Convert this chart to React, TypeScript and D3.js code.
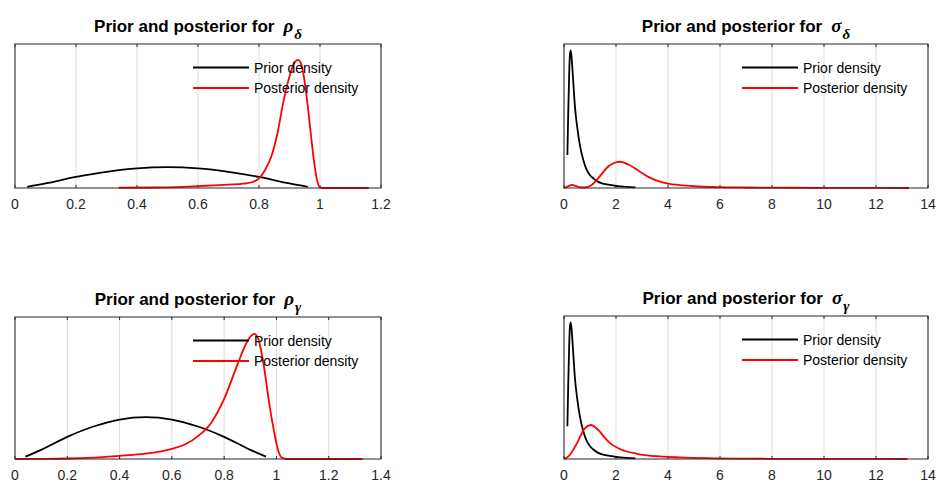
import React from "react";
import * as d3 from "d3";

type Pt = [number, number];

// prior densities (same prior for both rho and both sigma parameters)
const rhoPrior: Pt[] = [
  [0.04, 0.1], [0.1, 0.38], [0.2, 0.92], [0.3, 1.35], [0.4, 1.64], [0.5, 1.74],
  [0.6, 1.64], [0.7, 1.35], [0.8, 0.92], [0.9, 0.38], [0.96, 0.1]
];
const sigmaPrior: Pt[] = [
  [0.13, 2.06], [0.16, 4.5], [0.2, 7.2], [0.23, 8.4], [0.26, 8.6], [0.3, 8.0],
  [0.35, 6.8], [0.42, 5.1], [0.5, 3.9], [0.62, 2.6], [0.75, 1.7], [0.87, 1.15],
  [1.0, 0.8], [1.13, 0.6], [1.3, 0.4], [1.5, 0.28], [1.77, 0.19], [2.0, 0.13],
  [2.4, 0.07], [2.75, 0.04]
];

// posterior densities
const rhoDeltaPost: Pt[] = [
  [0.34, 0.02], [0.45, 0.04], [0.55, 0.1], [0.6, 0.15], [0.65, 0.22], [0.7, 0.28],
  [0.75, 0.36], [0.78, 0.5], [0.8, 0.8], [0.82, 1.5], [0.84, 2.6], [0.86, 4.5],
  [0.88, 7.2], [0.9, 9.3], [0.915, 10.4], [0.928, 10.67], [0.94, 10.2], [0.95, 8.8],
  [0.96, 6.8], [0.97, 4.5], [0.98, 2.3], [0.99, 0.7], [1.0, 0.05], [1.01, 0], [1.16, 0]
];
const sigmaDeltaPost: Pt[] = [
  [0, 0], [0.15, 0.1], [0.3, 0.19], [0.45, 0.13], [0.6, 0.05], [0.8, 0.03],
  [1.0, 0.12], [1.26, 0.5], [1.5, 0.98], [1.64, 1.25], [1.9, 1.55], [2.15, 1.64],
  [2.5, 1.45], [2.92, 1.02], [3.3, 0.65], [3.69, 0.4], [4.0, 0.28], [4.46, 0.18],
  [5, 0.11], [6, 0.05], [7, 0.03], [8, 0.02], [10, 0.01], [13.27, 0]
];
const rhoGammaPost: Pt[] = [
  [0, 0], [0.1, 0.005], [0.2, 0.02], [0.3, 0.06], [0.4, 0.13], [0.5, 0.22],
  [0.6, 0.42], [0.65, 0.6], [0.7, 0.95], [0.75, 1.5], [0.8, 2.5], [0.85, 3.9],
  [0.88, 4.7], [0.9, 5.08], [0.915, 5.2], [0.93, 5.0], [0.95, 4.0], [0.97, 2.5],
  [0.98, 1.8], [0.99, 1.2], [1.0, 0.65], [1.01, 0.25], [1.02, 0.06], [1.04, 0], [1.33, 0]
];
const sigmaGammaPost: Pt[] = [
  [0, 0], [0.1, 0.08], [0.23, 0.27], [0.36, 0.6], [0.5, 1.0], [0.62, 1.41],
  [0.81, 1.94], [1.04, 2.14], [1.2, 2.0], [1.38, 1.72], [1.55, 1.38], [1.77, 1.0],
  [2.15, 0.63], [2.8, 0.33], [3.69, 0.16], [4.46, 0.1], [5.5, 0.05], [7, 0.02],
  [9, 0.01], [13.2, 0]
];

const rhoTicks1 = [0, 0.2, 0.4, 0.6, 0.8, 1, 1.2];
const rhoTicks2 = [0, 0.2, 0.4, 0.6, 0.8, 1, 1.2, 1.4];
const sigmaTicks = [0, 2, 4, 6, 8, 10, 12, 14];
const legendLabels = ["Prior density", "Posterior density"];

const panels = [
  { left: 15, top: 44, w: 366, h: 144, ticks: rhoTicks1, ymax: 12, sym: "ρ", sub: "δ", prior: rhoPrior, post: rhoDeltaPost },
  { left: 564, top: 44, w: 364, h: 144, ticks: sigmaTicks, ymax: 9, sym: "σ", sub: "δ", prior: sigmaPrior, post: sigmaDeltaPost },
  { left: 15, top: 317, w: 366, h: 142, ticks: rhoTicks2, ymax: 5.9, sym: "ρ", sub: "γ", prior: rhoPrior, post: rhoGammaPost },
  { left: 564, top: 316, w: 364, h: 143, ticks: sigmaTicks, ymax: 9, sym: "σ", sub: "γ", prior: sigmaPrior, post: sigmaGammaPost }
];

const Panel = ({ p }: { p: typeof panels[number] }) => {
  const x = d3.scaleLinear()
    .domain([p.ticks[0], p.ticks[p.ticks.length - 1]])
    .range([p.left, p.left + p.w]);
  const y = d3.scaleLinear().domain([0, p.ymax]).range([p.top + p.h, p.top]);
  const line = d3.line<Pt>()
    .x((d) => x(d[0]))
    .y((d) => y(d[1]))
    .curve(d3.curveMonotoneX);
  const fmt = (v: number) => String(+v.toFixed(1));

  return (
    <g>
      {p.ticks.map((t) => (
        <line key={"g" + t} x1={x(t)} x2={x(t)} y1={p.top} y2={p.top + p.h}
          stroke="#dcdcdc" strokeWidth={1} />
      ))}
      {p.ticks.map((t) => (
        <g key={"t" + t}>
          <line x1={x(t)} x2={x(t)} y1={p.top + p.h} y2={p.top + p.h - 3} stroke="#262626" />
          <line x1={x(t)} x2={x(t)} y1={p.top} y2={p.top + 3} stroke="#262626" />
          <text x={x(t)} y={p.top + p.h + 20.5} textAnchor="middle" fontSize={14}
            fill="#262626">{fmt(t)}</text>
        </g>
      ))}
      <path d={line(p.prior) || ""} fill="none" stroke="#000" strokeWidth={1.8} />
      <path d={line(p.post) || ""} fill="none" stroke="#ff0000" strokeWidth={1.8} />
      <rect x={p.left} y={p.top} width={p.w} height={p.h} fill="none"
        stroke="#262626" strokeWidth={1} />
      {legendLabels.map((lab, i) => {
        const ly = p.top + 23.5 + i * 20.5;
        return (
          <g key={lab}>
            <line x1={p.left + 178} x2={p.left + 234} y1={ly} y2={ly}
              stroke={i === 0 ? "#000" : "#ff0000"} strokeWidth={1.8} />
            <text x={p.left + 239} y={ly + 5} fontSize={14} fill="#000">{lab}</text>
          </g>
        );
      })}
      <text x={p.left + p.w / 2} y={p.top - 12.5} textAnchor="middle" fontSize={17}
        fontWeight="bold" fill="#000">
        Prior and posterior for
        <tspan dx={9} fontFamily="'Liberation Serif', serif" fontStyle="italic" fontSize={19}>{p.sym}</tspan>
        <tspan dx={1} fontFamily="'Liberation Serif', serif" fontStyle="italic" fontSize={15} dy={7}>{p.sub}</tspan>
      </text>
    </g>
  );
};

export default function App() {
  return (
    <div style={{ position: "absolute", left: 0, top: 0 }}>
      <svg width={940} height={484} style={{ display: "block", background: "#fff" }}
        fontFamily="'Liberation Sans', Arial, sans-serif">
        {panels.map((p, i) => <Panel key={i} p={p} />)}
      </svg>
    </div>
  );
}
